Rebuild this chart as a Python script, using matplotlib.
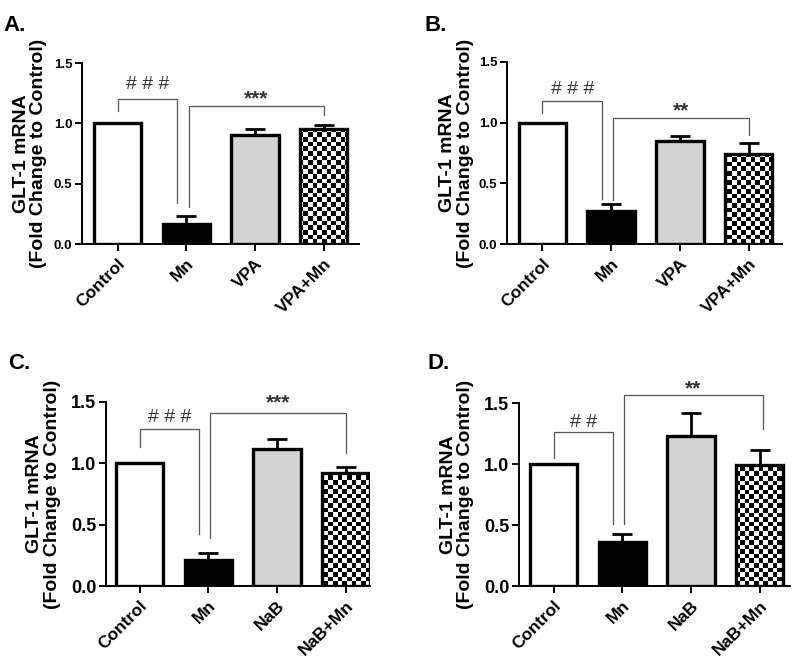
import numpy as np
import matplotlib.pyplot as plt

plt.rcParams['font.family'] = ['Liberation Sans', 'DejaVu Sans']

groups_vpa = ['Control', 'Mn', 'VPA', 'VPA+Mn']
groups_nab = ['Control', 'Mn', 'NaB', 'NaB+Mn']

mean_a = [1.0, 0.17, 0.90, 0.95]
err_a = [0.0, 0.06, 0.05, 0.04]
mean_b = [1.0, 0.27, 0.85, 0.74]
err_b = [0.0, 0.06, 0.04, 0.09]
mean_c = [1.0, 0.21, 1.12, 0.92]
err_c = [0.0, 0.06, 0.08, 0.05]
mean_d = [1.0, 0.36, 1.23, 0.99]
err_d = [0.0, 0.07, 0.19, 0.13]

# significance brackets: (x0, x1, y_left, y_top, y_right, label, y_text)
sig_a = [(0, 0.87, 1.10, 1.20, 0.34, '# # #', 1.32), (1.04, 3.0, 0.31, 1.146, 1.07, '***', 1.22)]
sig_b = [(0, 0.87, 1.08, 1.18, 0.37, '# # #', 1.27), (1.03, 3.0, 0.365, 1.04, 0.90, '**', 1.12)]
sig_c = [(0, 0.86, 1.13, 1.28, 0.42, '# # #', 1.37), (1.02, 3.0, 0.39, 1.41, 1.08, '***', 1.51)]
sig_d = [(0, 0.87, 1.05, 1.26, 0.51, '# #', 1.34), (1.02, 3.05, 0.51, 1.57, 1.29, '**', 1.64)]

fig = plt.figure(figsize=(8, 6.6), dpi=100)

panels = [
    ('A.', groups_vpa, mean_a, err_a, sig_a, [0.1025, 0.6303, 0.346, 0.274], (-0.52, 3.51), 9.5, -0.125, (0.004, 0.978)),
    ('B.', groups_vpa, mean_b, err_b, sig_b, [0.634, 0.6303, 0.344, 0.276], (-0.51, 3.49), 9.5, -0.122, (0.531, 0.978)),
    ('C.', groups_nab, mean_c, err_c, sig_c, [0.1325, 0.1121, 0.33, 0.279], (-0.49, 3.35), 13, -0.17, (0.01, 0.465)),
    ('D.', groups_nab, mean_d, err_d, sig_d, [0.649, 0.1121, 0.339, 0.277], (-0.50, 3.45), 13, -0.165, (0.534, 0.465)),
]

fills = ['white', 'black', '#d4d4d4', 'none']

for letter, groups, means, errs, sigs, pos, xlim, ytick_size, ylab_x, letter_pos in panels:
    ax = fig.add_axes(pos)
    x = np.arange(len(groups))

    # error bars (upper only)
    idx = [i for i in range(len(errs)) if errs[i] > 0]
    ax.errorbar(x[idx], np.array(means)[idx], yerr=[np.zeros(len(idx)), np.array(errs)[idx]],
                fmt='none', ecolor='black', elinewidth=2, capsize=7, capthick=2, zorder=1)

    bars = ax.bar(x, means, width=0.69, color=fills, edgecolor='black', linewidth=2.4, zorder=3)

    # checkerboard fill for the combined treatment
    w_px = pos[2] * 800
    h_px = pos[3] * 660
    nx, ny = int(round(w_px / 4.6)), int(round(h_px / 4.6))
    checker = (np.indices((ny, nx)).sum(axis=0) % 2).astype(float)
    im = ax.imshow(checker, cmap='gray', vmin=0, vmax=1, extent=(0, 1, 0, 1),
                   transform=ax.transAxes, aspect='auto', interpolation='nearest', zorder=2)
    im.set_clip_path(bars[3])

    for x0, x1, yl, yt, yr, lab, yt_text in sigs:
        ax.plot([x0, x0, x1, x1], [yl, yt, yt, yr], color='#555555', lw=0.9, clip_on=False, zorder=4)
        if lab.startswith('#'):
            ax.text((x0 + x1) / 2, yt_text, lab, ha='center', va='center', fontsize=14,
                    color='#333333', clip_on=False)
        else:
            ax.text((x0 + x1) / 2, yt_text - 0.02, lab, ha='center', va='center', fontsize=15,
                    fontweight='bold', color='#333333', clip_on=False)

    ax.set_xlim(*xlim)
    ax.set_ylim(0, 1.5)
    ax.set_yticks([0.0, 0.5, 1.0, 1.5])
    ax.set_yticklabels(['0.0', '0.5', '1.0', '1.5'], fontsize=ytick_size, fontweight='bold')
    ax.set_xticks(x)
    ax.set_xticklabels(groups, rotation=45, ha='right', rotation_mode='anchor',
                       fontsize=12.5, fontweight='bold')
    ax.spines['top'].set_visible(False)
    ax.spines['right'].set_visible(False)
    ax.spines['left'].set_linewidth(1.4)
    ax.spines['bottom'].set_linewidth(1.4)
    ax.tick_params(axis='both', width=1.4, length=5, color='black')
    ax.tick_params(axis='y', pad=2)
    ax.set_ylabel('GLT-1 mRNA\n(Fold Change to Control)', fontsize=14, fontweight='bold',
                  linespacing=1.05)
    ax.yaxis.set_label_coords(ylab_x, 0.5)

    fig.text(letter_pos[0], letter_pos[1], letter, fontsize=16, fontweight='bold', va='top')

fig.savefig('out.png', dpi=100)
